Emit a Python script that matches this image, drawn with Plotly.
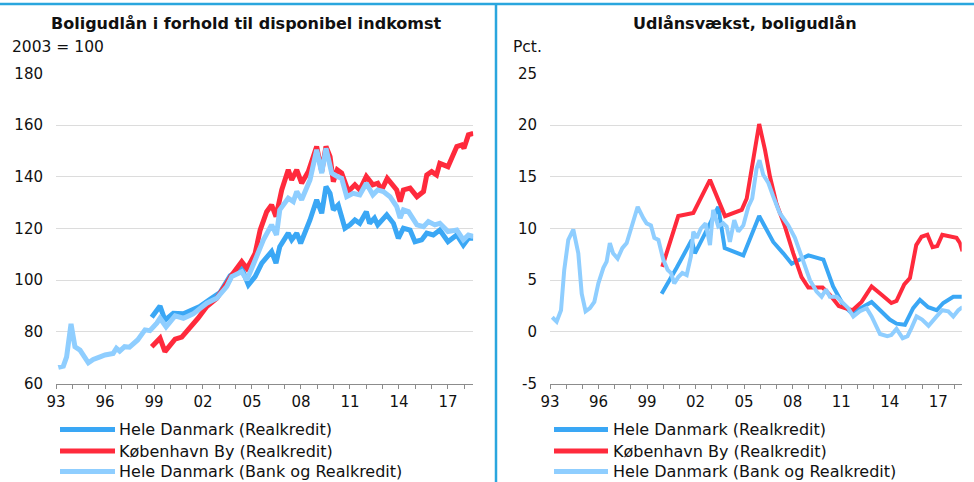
import plotly.graph_objects as go

W, H = 974, 482
FONT = "DejaVu Sans"
C_DARK = "#3AA7F5"
C_RED = "#FF2A3C"
C_LIGHT = "#8FCEFF"
C_FRAME = "#2AA6DE"

# ---------------- data (decimal year, value) ----------------
# Left panel: Boligudlån i forhold til disponibel indkomst (2003 = 100)
left_hd_real = [(1998.86, 85.7), (1999.37, 90.0), (1999.67, 84.6), (2000.18, 87.2), (2000.8, 87.0),
                (2001.2, 88.2), (2001.8, 89.8), (2002.43, 92.6), (2003.04, 95.2), (2003.66, 101.7),
                (2004.37, 104.6), (2004.78, 98.2), (2005.19, 101.4), (2005.6, 106.6), (2006.2, 111.1),
                (2006.47, 106.6), (2006.7, 113.0), (2007.22, 118.2), (2007.43, 115.6), (2007.74, 118.2),
                (2007.98, 114.3), (2008.55, 123.3), (2008.96, 131.1), (2009.27, 125.9), (2009.53, 136.2),
                (2009.78, 133.6), (2009.98, 127.2), (2010.28, 129.1), (2010.69, 120.1), (2011.0, 121.4),
                (2011.3, 123.3), (2011.6, 122.0), (2012.0, 126.5), (2012.2, 122.0), (2012.5, 124.0),
                (2012.7, 121.4), (2013.25, 125.3), (2013.66, 122.0), (2013.96, 116.2), (2014.27, 120.1),
                (2014.68, 119.4), (2014.98, 114.9), (2015.39, 115.6), (2015.7, 118.2), (2016.1, 117.5),
                (2016.5, 119.4), (2017.0, 114.9), (2017.54, 117.5), (2017.94, 113.6), (2018.25, 116.2),
                (2018.55, 116.2)]
left_kbh_real = [(1998.86, 74.3), (1999.37, 77.6), (1999.67, 72.4), (2000.29, 77.2), (2000.7, 78.0),
                 (2001.2, 81.4), (2001.7, 85.3), (2002.23, 89.8), (2002.84, 93.0), (2003.45, 98.8),
                 (2003.76, 102.0), (2004.37, 107.2), (2004.68, 104.6), (2004.88, 106.6), (2005.19, 110.4),
                 (2005.5, 119.4), (2005.9, 126.5), (2006.2, 129.1), (2006.47, 124.6), (2006.82, 134.9),
                 (2007.22, 142.7), (2007.43, 138.8), (2007.74, 142.7), (2008.04, 137.5), (2008.45, 142.0),
                 (2008.96, 151.7), (2009.27, 142.0), (2009.53, 151.7), (2009.78, 147.8), (2009.98, 138.1),
                 (2010.22, 142.7), (2010.49, 141.4), (2010.9, 134.3), (2011.3, 136.9), (2011.6, 134.9),
                 (2012.0, 140.1), (2012.4, 136.9), (2012.7, 137.5), (2012.94, 134.9), (2013.28, 139.4),
                 (2013.62, 136.9), (2013.86, 134.9), (2014.07, 130.4), (2014.27, 134.9), (2014.68, 135.6),
                 (2015.1, 132.3), (2015.5, 134.3), (2015.7, 140.7), (2016.0, 142.0), (2016.3, 140.7),
                 (2016.5, 145.2), (2017.0, 143.9), (2017.54, 151.7), (2017.84, 152.3), (2017.98, 151.0),
                 (2018.25, 156.2), (2018.55, 156.8)]
left_hd_bank = [(1993.14, 66.3), (1993.45, 66.8), (1993.65, 70.4), (1993.92, 83.1), (1994.16, 74.3),
                (1994.47, 73.0), (1994.98, 68.1), (1995.28, 69.4), (1995.7, 70.4), (1996.0, 71.1),
                (1996.5, 71.7), (1996.7, 73.7), (1996.9, 72.6), (1997.2, 74.3), (1997.5, 74.1),
                (1998.0, 76.9), (1998.45, 80.8), (1998.75, 80.5), (1999.17, 83.4), (1999.37, 85.3),
                (1999.74, 82.0), (2000.29, 86.2), (2000.8, 85.3), (2001.4, 87.0), (2002.23, 91.1),
                (2002.84, 93.0), (2003.45, 97.5), (2003.76, 101.4), (2004.37, 103.3), (2004.68, 100.1),
                (2004.88, 103.0), (2005.29, 109.1), (2005.7, 115.6), (2006.2, 121.4), (2006.5, 117.5),
                (2006.7, 127.2), (2007.22, 131.7), (2007.53, 130.4), (2007.74, 134.3), (2008.04, 131.1),
                (2008.55, 138.8), (2008.96, 150.4), (2009.27, 141.4), (2009.53, 151.0), (2009.88, 141.4),
                (2010.22, 140.1), (2010.49, 139.4), (2010.8, 132.3), (2011.2, 133.6), (2011.6, 133.0),
                (2012.0, 137.5), (2012.4, 133.0), (2012.7, 134.9), (2013.04, 134.3), (2013.45, 132.3),
                (2013.86, 128.5), (2014.07, 124.0), (2014.27, 127.2), (2014.58, 126.5), (2015.1, 121.4),
                (2015.5, 120.7), (2015.8, 122.7), (2016.2, 121.4), (2016.5, 122.0), (2017.0, 118.8),
                (2017.54, 119.4), (2017.94, 115.6), (2018.25, 117.5), (2018.55, 116.9)]

# Right panel: Udlånsvækst, boligudlån (pct.)
right_hd_real = [(1999.9, 3.7), (2000.83, 6.2), (2001.76, 8.9), (2001.96, 7.6), (2002.58, 9.5),
                 (2003.4, 12.1), (2003.8, 8.1), (2004.95, 7.4), (2005.93, 11.2), (2006.8, 8.7),
                 (2007.42, 7.6), (2007.94, 6.6), (2008.45, 7.0), (2008.97, 7.4), (2009.9, 7.0),
                 (2010.5, 4.4), (2011.13, 2.6), (2011.65, 1.8), (2012.88, 2.9), (2014.0, 1.2),
                 (2014.42, 0.8), (2014.94, 0.7), (2015.45, 2.3), (2015.87, 3.1), (2016.38, 2.4),
                 (2016.9, 2.1), (2017.31, 2.8), (2017.93, 3.4), (2018.5, 3.4)]
right_kbh_real = [(1999.94, 6.3), (2000.42, 8.6), (2000.93, 11.2), (2001.86, 11.5), (2002.89, 14.7),
                  (2003.82, 11.2), (2004.85, 11.8), (2005.16, 12.9), (2005.93, 20.1), (2006.29, 17.6),
                  (2006.6, 15.0), (2007.0, 12.4), (2007.52, 10.2), (2008.04, 7.6), (2008.55, 5.3),
                  (2008.97, 4.3), (2009.48, 4.3), (2009.85, 4.3), (2010.3, 3.6), (2010.85, 2.5),
                  (2011.23, 2.3), (2011.7, 2.1), (2012.26, 2.9), (2012.88, 4.4), (2013.5, 3.6),
                  (2014.1, 2.8), (2014.42, 3.0), (2014.9, 4.6), (2015.25, 5.2), (2015.64, 8.4),
                  (2015.97, 9.2), (2016.33, 9.4), (2016.65, 8.2), (2016.94, 8.3), (2017.25, 9.4),
                  (2017.72, 9.2), (2018.13, 9.1), (2018.34, 8.6), (2018.5, 7.8)]
right_hd_bank = [(1993.14, 1.42), (1993.41, 1.0), (1993.68, 2.1), (1993.88, 6.0), (1994.13, 8.9),
                 (1994.44, 9.9), (1994.75, 7.6), (1994.96, 3.7), (1995.2, 2.0), (1995.47, 2.3),
                 (1995.74, 2.9), (1995.99, 4.7), (1996.3, 6.2), (1996.5, 6.8), (1996.7, 8.6),
                 (1996.9, 7.6), (1997.18, 7.1), (1997.47, 8.1), (1997.74, 8.6), (1998.05, 10.3),
                 (1998.42, 12.1), (1998.77, 11.0), (1998.97, 10.5), (1999.24, 10.3), (1999.45, 9.1),
                 (1999.7, 8.9), (2000.0, 7.0), (2000.27, 6.0), (2000.48, 5.7), (2000.68, 4.7),
                 (2000.93, 5.3), (2001.18, 5.7), (2001.45, 5.5), (2001.71, 7.3), (2001.86, 9.7),
                 (2002.07, 9.1), (2002.33, 10.0), (2002.62, 10.5), (2002.89, 8.4), (2003.09, 11.8),
                 (2003.4, 10.2), (2003.71, 10.5), (2003.92, 10.2), (2004.12, 8.7), (2004.39, 10.8),
                 (2004.64, 9.7), (2004.95, 10.3), (2005.26, 12.1), (2005.5, 12.9), (2005.77, 15.8),
                 (2005.95, 16.6), (2006.18, 15.2), (2006.5, 14.4), (2006.8, 13.1), (2007.2, 11.5),
                 (2007.73, 10.3), (2008.14, 9.1), (2008.55, 7.3), (2009.07, 5.0), (2009.48, 3.9),
                 (2009.79, 3.4), (2010.06, 4.1), (2010.3, 3.4), (2010.72, 3.4), (2011.03, 2.9),
                 (2011.44, 2.3), (2011.75, 1.5), (2012.16, 2.0), (2012.57, 2.3), (2012.88, 1.5),
                 (2013.4, -0.2), (2013.85, -0.4), (2014.1, -0.3), (2014.42, 0.3), (2014.8, -0.6),
                 (2015.1, -0.4), (2015.35, 0.4), (2015.66, 1.5), (2016.0, 1.2), (2016.4, 0.6),
                 (2016.9, 1.5), (2017.25, 2.1), (2017.62, 2.0), (2017.93, 1.5), (2018.24, 2.1),
                 (2018.5, 2.4)]

series_names = ["Hele Danmark (Realkredit)", "København By (Realkredit)",
                "Hele Danmark (Bank og Realkredit)"]
series_colors = [C_DARK, C_RED, C_LIGHT]

year_ticks = list(range(1993, 2019))
year_labels = [f"{y % 100:02d}" if (y - 1993) % 3 == 0 else "" for y in year_ticks]
left_yticks = [60, 80, 100, 120, 140, 160, 180]
right_yticks = [-5, 0, 5, 10, 15, 20, 25]

titles = ["Boligudlån i forhold til disponibel indkomst", "Udlånsvækst, boligudlån"]
units = ["2003 = 100", "Pct."]

# ---------------- figure ----------------
fig = go.Figure()

def px_x(p):
    return p / W

def px_y(p):
    return 1 - p / H

panels = [
    dict(data=[left_hd_real, left_kbh_real, left_hd_bank], xa="x", ya="y", width=5),
    dict(data=[right_hd_real, right_kbh_real, right_hd_bank], xa="x2", ya="y2", width=4),
]
for pn in panels:
    for ser, name, col in zip(pn["data"], series_names, series_colors):
        xs, ys = zip(*ser)
        fig.add_trace(go.Scatter(x=list(xs), y=list(ys), mode="lines", name=name,
                                 line=dict(color=col, width=pn["width"]),
                                 xaxis=pn["xa"], yaxis=pn["ya"], showlegend=False,
                                 hoverinfo="x+y"))

xcommon = dict(tickmode="array", tickvals=year_ticks, ticktext=year_labels,
               showgrid=False, zeroline=False, showline=True, linecolor="#8c8c8c",
               linewidth=1, ticks="outside", ticklen=4, tickcolor="#8c8c8c",
               tickfont=dict(family=FONT, size=15, color="#111"), fixedrange=True,
               automargin=False)
ycommon = dict(tickmode="array", showgrid=True, gridcolor="#dcdcdc", gridwidth=1.3,
               zeroline=False, showline=False, ticks="",
               tickfont=dict(family=FONT, size=15, color="#111"),
               ticklabelstandoff=12, fixedrange=True, automargin=False)

y_dom = [px_y(383.7), px_y(73.3)]
fig.update_layout(
    template="none",
    width=W, height=H, margin=dict(l=0, r=0, t=0, b=0, pad=0, autoexpand=False),
    paper_bgcolor="white", plot_bgcolor="white", showlegend=False,
    xaxis=dict(domain=[px_x(56), px_x(473.3)], range=[1993, 2018.55], anchor="y", **xcommon),
    yaxis=dict(domain=y_dom, range=[60, 180], tickvals=left_yticks,
               ticktext=[str(v) for v in left_yticks], anchor="x", **ycommon),
    xaxis2=dict(domain=[px_x(550), px_x(961.7)], range=[1993, 2018.45], anchor="y2", **xcommon),
    yaxis2=dict(domain=y_dom, range=[-5, 25], tickvals=right_yticks,
                ticktext=[str(v) for v in right_yticks], anchor="x2", **ycommon),
)

shapes = [
    dict(type="line", xref="paper", yref="paper", x0=0, x1=1, y0=px_y(4), y1=px_y(4),
         line=dict(color=C_FRAME, width=2.5)),
    dict(type="line", xref="paper", yref="paper", x0=px_x(496), x1=px_x(496), y0=0, y1=px_y(3),
         line=dict(color=C_FRAME, width=2.5)),
]
annotations = [
    dict(text=f"<b>{titles[0]}</b>", x=px_x(246), y=px_y(23), xref="paper", yref="paper",
         showarrow=False, xanchor="center", yanchor="middle",
         font=dict(family=FONT, size=16, color="#111")),
    dict(text=f"<b>{titles[1]}</b>", x=px_x(745), y=px_y(23), xref="paper", yref="paper",
         showarrow=False, xanchor="center", yanchor="middle",
         font=dict(family=FONT, size=16, color="#111")),
    dict(text=units[0], x=px_x(10), y=px_y(47), xref="paper", yref="paper",
         showarrow=False, xanchor="left", yanchor="middle",
         font=dict(family=FONT, size=15.5, color="#111")),
    dict(text=units[1], x=px_x(511), y=px_y(47), xref="paper", yref="paper",
         showarrow=False, xanchor="left", yanchor="middle",
         font=dict(family=FONT, size=15.5, color="#111")),
]

legend_rows = [429.5, 451, 471.5]
for lx0, lx1, tx in [(60, 115, 117), (554, 608, 611)]:
    for ry, name, col in zip(legend_rows, series_names, series_colors):
        shapes.append(dict(type="line", xref="paper", yref="paper",
                           x0=px_x(lx0), x1=px_x(lx1), y0=px_y(ry), y1=px_y(ry),
                           line=dict(color=col, width=5)))
        annotations.append(dict(text=name, x=px_x(tx), y=px_y(ry), xref="paper", yref="paper",
                                showarrow=False, xanchor="left", yanchor="middle",
                                font=dict(family=FONT, size=16, color="#111")))

fig.update_layout(shapes=shapes, annotations=annotations)
fig.write_html("out.html", config={"displayModeBar": False},
               post_script="document.body.style.margin='0';document.body.style.overflow='hidden';")
